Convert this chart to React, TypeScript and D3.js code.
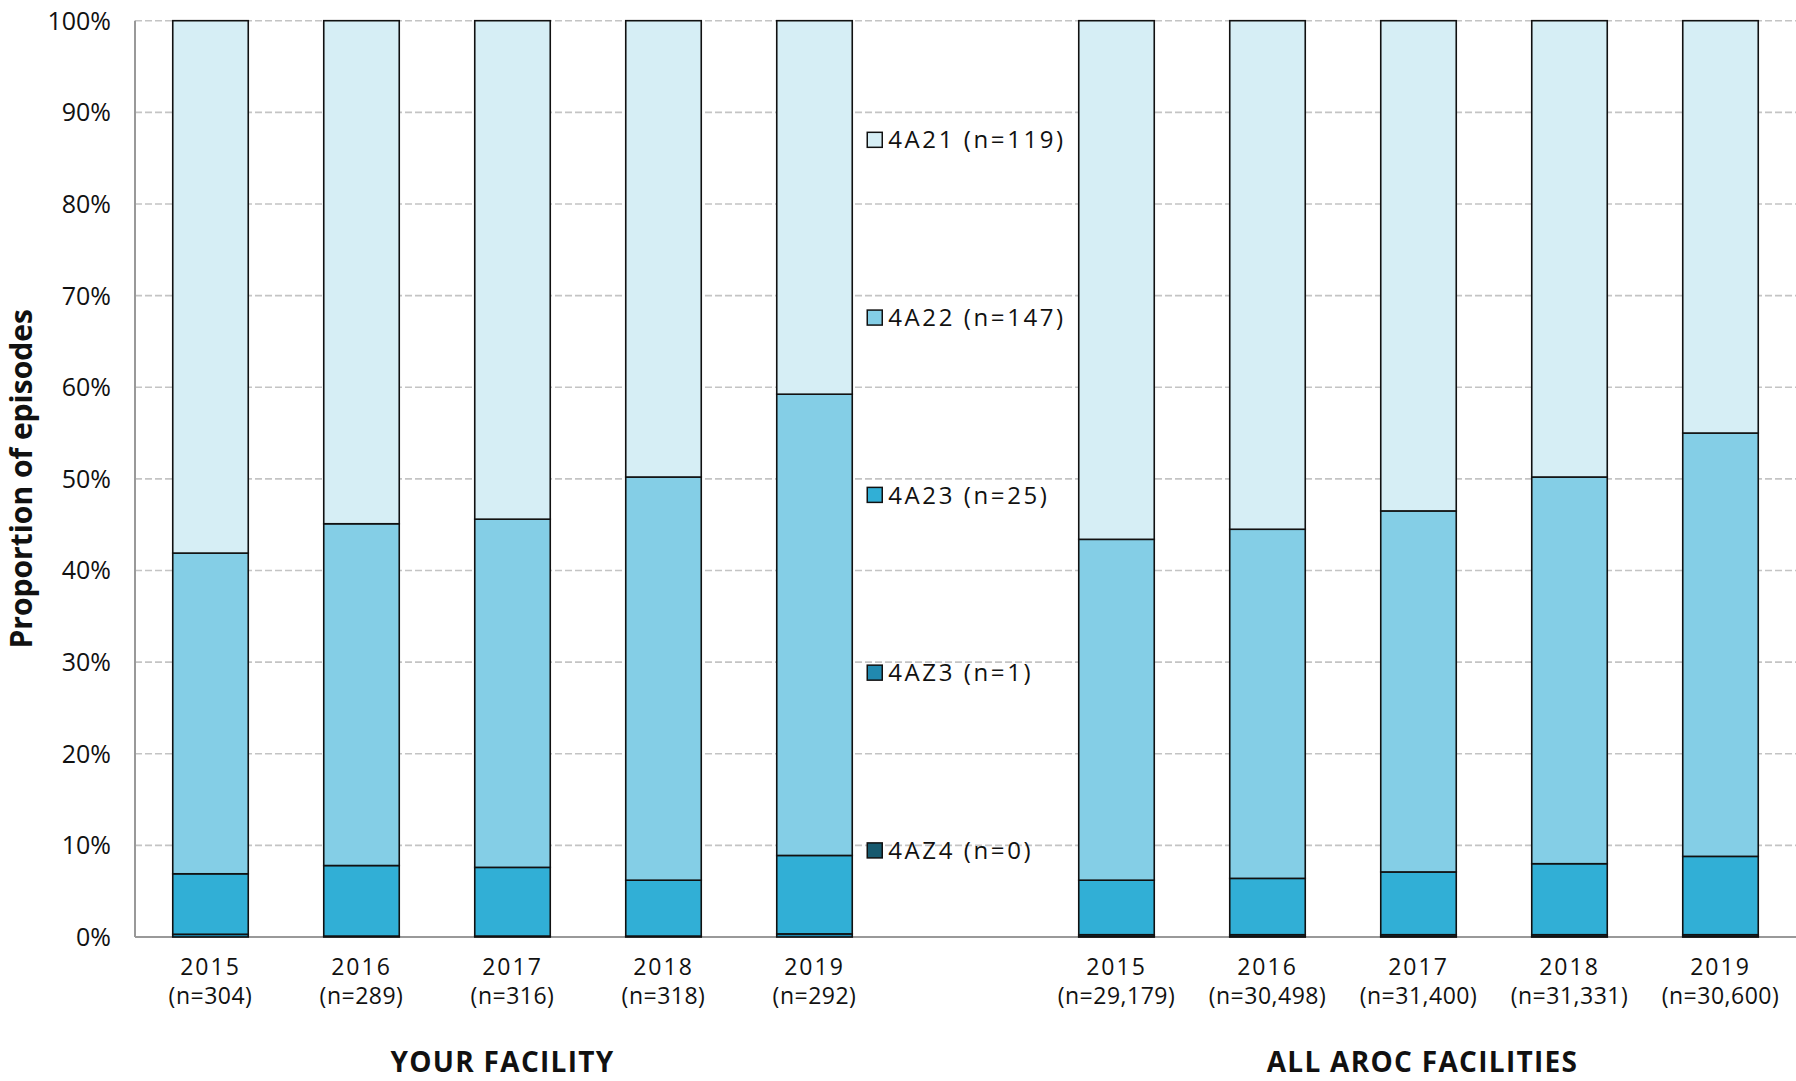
import React from "react";
import * as d3 from "d3";

// ---------- data ----------
const years = ["2015", "2016", "2017", "2018", "2019"];
const yourFacilityN = ["304", "289", "316", "318", "292"];
const allFacilitiesN = ["29,179", "30,498", "31,400", "31,331", "30,600"];
const groupTitles = ["YOUR FACILITY", "ALL AROC FACILITIES"];

const seriesKeys = ["4AZ4", "4AZ3", "4A23", "4A22", "4A21"]; // bottom -> top
const legendCounts = ["0", "1", "25", "147", "119"];
const seriesColors = ["#175a6f", "#2189af", "#31afd6", "#84cee6", "#d6eef5"];

// percentages: first 5 = your facility, last 5 = all AROC facilities
const pct4AZ4 = [0, 0, 0, 0, 0, 0.05, 0.05, 0.05, 0.05, 0.05];
const pct4AZ3 = [0.3, 0.1, 0.1, 0.1, 0.34, 0.2, 0.2, 0.2, 0.2, 0.2];
const pct4A23 = [6.6, 7.7, 7.5, 6.1, 8.56, 5.95, 6.15, 6.85, 7.75, 8.55];
const pct4A22 = [35.0, 37.3, 38.0, 44.0, 50.34, 37.2, 38.1, 39.4, 42.2, 46.2];
const pct4A21 = [58.1, 54.9, 54.4, 49.8, 40.76, 56.6, 55.5, 53.5, 49.8, 45.0];

const yTicks = [0, 10, 20, 30, 40, 50, 60, 70, 80, 90, 100];

// ---------- layout ----------
const W = 1796;
const H = 1081;
const plotLeft = 135;
const plotRight = 1796;
const plotTop = 20.7;
const plotBottom = 937;
const FONT = "'Open Sans', 'Noto Sans', sans-serif";
const titleOffsets = [-10, 4];

export default function App() {
  const slots = d3.range(11).map(String); // 5 bars, 1 legend gap, 5 bars
  const barSlots = [0, 1, 2, 3, 4, 6, 7, 8, 9, 10];

  const x = d3
    .scaleBand<string>()
    .domain(slots)
    .range([plotLeft, plotRight])
    .paddingInner(0.5)
    .paddingOuter(0.25);
  const y = d3.scaleLinear().domain([0, 100]).range([plotBottom, plotTop]);

  const rows = barSlots.map((s, i) => ({
    slot: String(s),
    "4AZ4": pct4AZ4[i],
    "4AZ3": pct4AZ3[i],
    "4A23": pct4A23[i],
    "4A22": pct4A22[i],
    "4A21": pct4A21[i],
  }));
  const stacked = d3.stack<any>().keys(seriesKeys)(rows);

  const labels = barSlots.map((s, i) => ({
    slot: String(s),
    year: years[i % 5],
    n: i < 5 ? yourFacilityN[i] : allFacilitiesN[i - 5],
  }));

  const groupCenters = [
    (x("0")! + x("4")! + x.bandwidth()) / 2,
    (x("6")! + x("10")! + x.bandwidth()) / 2,
  ];

  // legend: top item = 4A21
  const legendItems = seriesKeys
    .map((k, i) => ({ key: k, count: legendCounts[i], color: seriesColors[i] }))
    .reverse();
  const legendYs = [87, 67.6, 48.25, 28.85, 9.45];
  const legendX = x("4")! + x.bandwidth() + 15;

  return (
    <svg
      width={W}
      height={H}
      style={{ position: "absolute", left: 0, top: 0, background: "#fff" }}
      fontFamily={FONT}
    >
      {/* gridlines */}
      {yTicks
        .filter((t) => t > 0)
        .map((t) => (
          <line
            key={"g" + t}
            x1={plotLeft}
            x2={plotRight}
            y1={y(t)}
            y2={y(t)}
            stroke="#c4c4c4"
            strokeWidth={1.6}
            strokeDasharray="7 3"
          />
        ))}
      {/* y tick labels */}
      {yTicks.map((t) => (
        <text
          key={"t" + t}
          x={111}
          y={y(t)}
          dy="0.36em"
          textAnchor="end"
          fontSize={25}
          fill="#111"
        >
          {t + "%"}
        </text>
      ))}
      {/* axes */}
      <line x1={plotLeft} x2={plotLeft} y1={plotTop} y2={plotBottom} stroke="#999" strokeWidth={2} />
      <line x1={plotLeft} x2={plotRight} y1={plotBottom} y2={plotBottom} stroke="#999" strokeWidth={2} />

      {/* bars */}
      {stacked.map((layer, li) => (
        <g key={layer.key} fill={seriesColors[li]}>
          {layer.map((d: any, i: number) => {
            const h = y(d[0]) - y(d[1]);
            return (
              <rect
                key={i}
                x={x(d.data.slot)!}
                y={y(d[1])}
                width={x.bandwidth()}
                height={Math.max(h, 0)}
                stroke="#111"
                strokeWidth={1.6}
              />
            );
          })}
        </g>
      ))}

      {/* x labels */}
      {labels.map((l) => {
        const cx = x(l.slot)! + x.bandwidth() / 2;
        return (
          <g key={"xl" + l.slot} fontSize={23} fill="#111" textAnchor="middle">
            <text x={cx} y={975} letterSpacing={2}>
              {l.year}
            </text>
            <text x={cx} y={1004} letterSpacing={0.5}>
              {"(n=" + l.n + ")"}
            </text>
          </g>
        );
      })}

      {/* group titles */}
      {groupTitles.map((g, i) => (
        <text
          key={g}
          x={groupCenters[i] + titleOffsets[i]}
          y={1072}
          textAnchor="middle"
          fontSize={28}
          fontWeight="bold"
          letterSpacing={1.3}
          fill="#111"
        >
          {g}
        </text>
      ))}

      {/* y axis title */}
      <text
        transform={`translate(32, ${(plotTop + plotBottom) / 2}) rotate(-90)`}
        textAnchor="middle"
        fontSize={30}
        fontWeight="bold"
        fill="#111"
      >
        Proportion of episodes
      </text>

      {/* legend */}
      {legendItems.map((it, i) => {
        const cy = y(legendYs[i]);
        return (
          <g key={it.key}>
            <rect
              x={legendX}
              y={cy - 7.5}
              width={15}
              height={15}
              fill={it.color}
              stroke="#111"
              strokeWidth={1.5}
            />
            <text x={legendX + 21} y={cy} dy="0.36em" fontSize={24} fill="#111" letterSpacing={2.6}>
              {it.key + " (n=" + it.count + ")"}
            </text>
          </g>
        );
      })}
    </svg>
  );
}
